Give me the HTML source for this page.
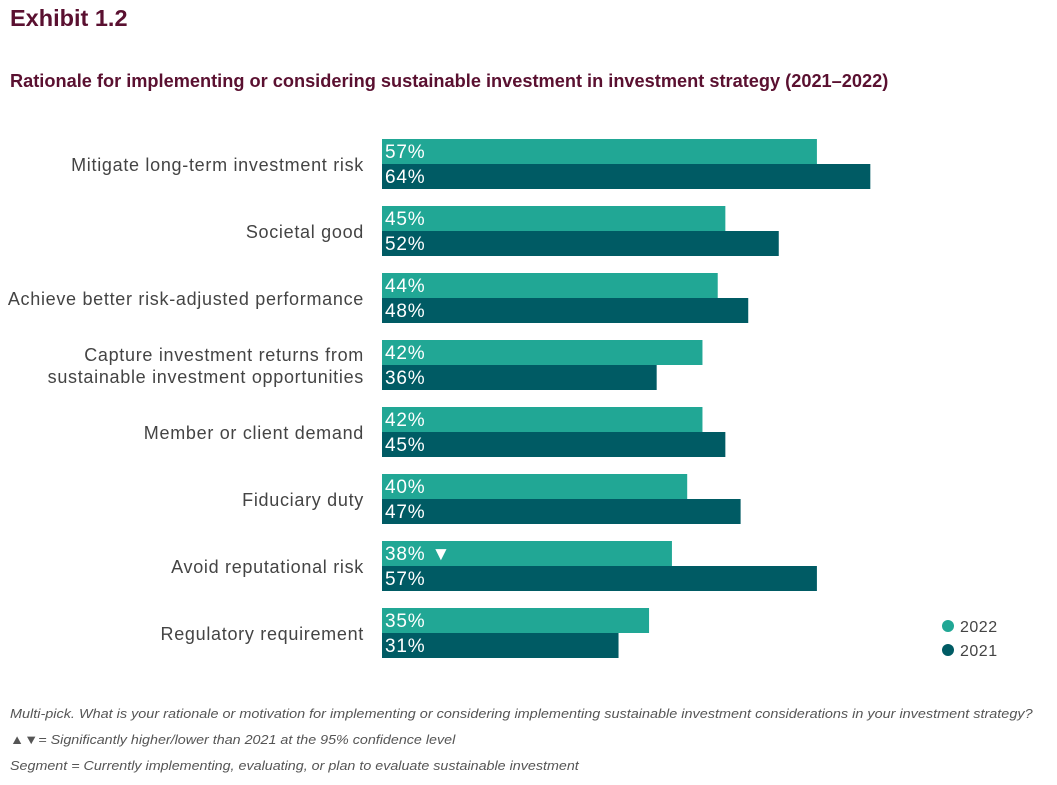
<!DOCTYPE html>
<html><head><meta charset="utf-8"><style>
body{margin:0;width:1057px;height:785px;background:#fff;font-family:"Liberation Sans",sans-serif;position:relative;overflow:hidden}
.t{position:absolute;white-space:nowrap}
</style></head><body>
<div class="t" style="left:10px;top:5px;font-size:23.5px;font-weight:bold;color:#5a1030">Exhibit 1.2</div>
<div class="t" style="left:10px;top:71px;font-size:18.2px;font-weight:bold;color:#5a1030">Rationale for implementing or considering sustainable investment in investment strategy (2021–2022)</div>
<svg id="chart" width="1057" height="785" style="position:absolute;left:0;top:0"></svg>
<div class="t" style="left:10px;top:706px;font-size:13px;font-style:italic;color:#555;transform:scaleX(1.11);transform-origin:left">Multi-pick. What is your rationale or motivation for implementing or considering implementing sustainable investment considerations in your investment strategy?</div>
<div class="t" style="left:10px;top:732px;font-size:13px;font-style:italic;color:#555;transform:scaleX(1.1);transform-origin:left">▲▼= Significantly higher/lower than 2021 at the 95% confidence level</div>
<div class="t" style="left:10px;top:758px;font-size:13px;font-style:italic;color:#555;transform:scaleX(1.1);transform-origin:left">Segment = Currently implementing, evaluating, or plan to evaluate sustainable investment</div>
<script>
const categories=[["Mitigate long-term investment risk"],["Societal good"],["Achieve better risk-adjusted performance"],["Capture investment returns from","sustainable investment opportunities"],["Member or client demand"],["Fiduciary duty"],["Avoid reputational risk"],["Regulatory requirement"]];
const values2022=[57,45,44,42,42,40,38,35];
const values2021=[64,52,48,36,45,47,57,31];
const sigMarks=["","","","","","","▼",""];
const seriesNames=["2022","2021"];
const colors=["#21a795","#005b64"];
const svg=document.getElementById('chart');const NS="http://www.w3.org/2000/svg";
const x0=382,scale=7.63,rowTop=139,pitch=67,bh=25;
const xs=v=>v*scale;
function mk(tag,attrs){const e=document.createElementNS(NS,tag);for(const k in attrs)e.setAttribute(k,attrs[k]);svg.appendChild(e);return e;}
categories.forEach((c,i)=>{
 const y=rowTop+i*pitch;
 [values2022[i],values2021[i]].forEach((v,j)=>{
  const r=mk('rect',{x:x0,y:y+j*bh,width:xs(v),height:bh,fill:colors[j]});
  
  
  const t=mk('text',{x:x0+3,y:y+j*bh+19,fill:'#fff','font-size':19,'letter-spacing':0.8,'font-family':'Liberation Sans, sans-serif'});
  t.textContent=v+'%'+(j==0&&sigMarks[i]?'  '+sigMarks[i]:'');
  
  
 });
 c.forEach((line,k)=>{
  const t=mk('text',{x:364,y:y+bh+7-(c.length-1)*11+k*22,'text-anchor':'end',fill:'#444','font-size':18,'letter-spacing':0.7,'font-family':'Liberation Sans, sans-serif'});
  t.textContent=line;
  
  
 });
});
seriesNames.forEach((n,j)=>{
 const cy=626+j*24;
 const c=mk('circle',{cx:948,cy:cy,r:6,fill:colors[j]});
 
 
 const t=mk('text',{x:960,y:cy+6,fill:'#444','font-size':16,'letter-spacing':0.5,'font-family':'Liberation Sans, sans-serif'});
 t.textContent=n;
 
 
});
</script>
</body></html>
